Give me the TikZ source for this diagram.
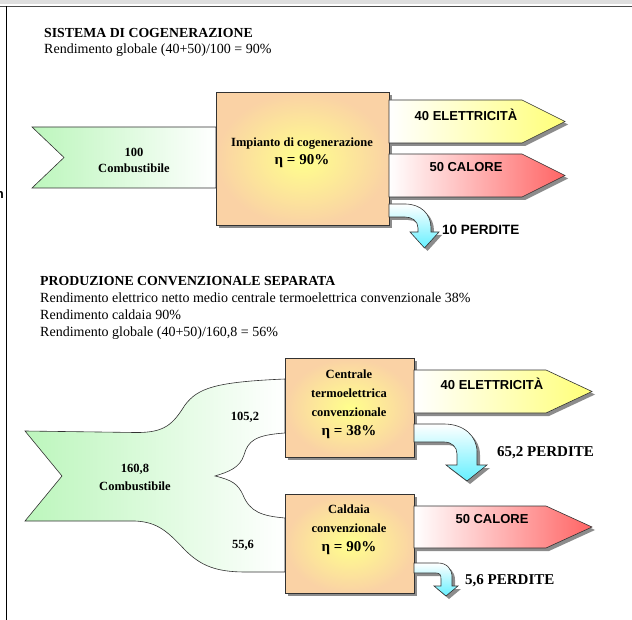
\documentclass[tikz,border=0pt]{standalone}
\usepackage{fontspec}
\setmainfont{Liberation Serif}
\newfontfamily\arialfont{Liberation Sans}
\usetikzlibrary{shadows}
\definecolor{flowgreen}{RGB}{188,246,188}
\definecolor{boxpeach}{RGB}{250,210,165}
\definecolor{boxyellow}{RGB}{255,255,140}
\definecolor{elecyellow}{RGB}{255,255,120}
\definecolor{heatred}{RGB}{255,100,100}
\definecolor{losscyan}{RGB}{100,240,255}
\definecolor{edgegray}{RGB}{50,50,50}
\begin{document}
\begin{tikzpicture}[x=1pt, y=-1pt,
        shade/.style  = {drop shadow={shadow xshift=3pt, shadow yshift=-3pt, fill=gray!90, opacity=1}},
        plant/.style  = {draw=edgegray, line width=0.8pt, inner color=boxyellow, outer color=boxpeach, shade, anchor=north west},
        fuel/.style   = {draw=edgegray, line width=0.6pt, left color=flowgreen, right color=white},
        elec/.style   = {draw=edgegray, line width=0.6pt, left color=white, right color=elecyellow, shade},
        heat/.style   = {draw=edgegray, line width=0.6pt, left color=white, right color=heatred, shade},
        loss/.style   = {draw=edgegray, line width=0.6pt, top color=white, bottom color=losscyan, shade},
        head/.style   = {font=\bfseries\fontsize{13.8}{16}\selectfont, anchor=base west, inner sep=0pt},
        body/.style   = {font=\fontsize{14}{17}\selectfont, anchor=base west, inner sep=0pt},
        inbox/.style  = {font=\bfseries\fontsize{12.5}{19}\selectfont, align=center, inner sep=0pt},
        tag/.style    = {font=\arialfont\bfseries\fontsize{13}{15}\selectfont, inner sep=0pt},
        waste/.style  = {font=\bfseries\fontsize{15}{17}\selectfont, anchor=west, inner sep=0pt}
    ]
    \useasboundingbox (0,0) rectangle (632,620);
    % frame of the page
    \fill[gray!25] (0,0) rectangle (632,4);
    \draw[gray!60!black, line width=1pt] (0,6.5) -- (632,6.5);
    \draw[black, line width=1.2pt] (6.5,6.5) -- (6.5,620);
    \node[font=\arialfont\bfseries\fontsize{13}{15}\selectfont, anchor=base east, inner sep=0pt] (cutn) at (4,199) {n};

    % cogenerazione
    \node[head] (titlecogen) at (44,38) {SISTEMA DI COGENERAZIONE};
    \node[body] (rendcogen) at (44,54) {Rendimento globale (40+50)/100 = 90\%};
    \path[fuel] (32,127) -- (216,127) -- (216,188) -- (32,188) -- (64,157.5) -- cycle;
    \node[inbox] (fuelcogen) at (134,160) {100\\[-3pt]Combustibile};
    \node[plant, minimum width=173pt, minimum height=133pt] (cogen) at (216,92) {};
    \node[inbox, font=\bfseries\fontsize{12.5}{18}\selectfont] (cogentext) at (302,153) {Impianto di cogenerazione\\{\fontsize{15}{18}\selectfont η = 90\%}};
    \path[elec] (389,100) -- (522,100) -- (565,121.5) -- (522,143) -- (389,143) -- cycle;
    \node[tag] (eleccogen) at (466,115) {40 ELETTRICITÀ};
    \path[heat] (389,154) -- (522,154) -- (565,175.5) -- (522,197) -- (389,197) -- cycle;
    \node[tag] (heatcogen) at (466,167) {50 CALORE};
    \path[loss] (389,204) -- (405,204) .. controls (421,204) and (431,214) .. (431,228) -- (431,232)
        -- (439,232) -- (424.5,248) -- (410,232) -- (418,232) -- (418,228)
        .. controls (418,221) and (412,217) .. (405,217) -- (389,217) -- cycle;
    \node[tag, font=\arialfont\bfseries\fontsize{13.5}{15}\selectfont, anchor=west] (losscogen) at (442,230) {10 PERDITE};

    % produzione separata
    \node[head] (titlesep) at (40,285.5) {PRODUZIONE CONVENZIONALE SEPARATA};
    \node[body] (rendelec) at (40,302.5) {Rendimento elettrico netto medio centrale termoelettrica convenzionale 38\%};
    \node[body] (rendcald) at (40,319.5) {Rendimento caldaia 90\%};
    \node[body] (rendsep) at (40,336.5) {Rendimento globale (40+50)/160,8 = 56\%};
    \path[fuel] (25,431) -- (135,432.5) .. controls (165,433) and (173,424) .. (185,405)
        .. controls (198,388) and (215,382) .. (285,379) -- (285,433)
        .. controls (255,435) and (248,441) .. (244,455) .. controls (240,468) and (228,472) .. (215,476)
        .. controls (232,480) and (238,484) .. (243,495) .. controls (250,512) and (262,516) .. (285,518)
        -- (285,572) -- (245,572) .. controls (215,572) and (200,565) .. (185,550)
        .. controls (168,532) and (158,522) .. (135,521) -- (25,521) -- (62,476) -- cycle;
    \node[inbox, font=\bfseries\fontsize{12.5}{18}\selectfont] (fuelsep) at (135,477) {160,8\\Combustibile};
    \node[inbox] (flowelec) at (245,417) {105,2};
    \node[inbox] (flowcald) at (243,545) {55,6};

    \node[plant, minimum width=129pt, minimum height=99pt] (centrale) at (285,358) {};
    \node[inbox] (centraletext) at (349,404) {Centrale\\termoelettrica\\convenzionale\\{\fontsize{15}{18}\selectfont η = 38\%}};
    \path[elec] (414,370) -- (546,370) -- (592,391.5) -- (546,413) -- (414,413) -- cycle;
    \node[tag] (elecsep) at (492,384) {40 ELETTRICITÀ};
    \path[loss] (414,424) -- (444,424) .. controls (464,424) and (477,436) .. (477,452) -- (477,465)
        -- (487,465) -- (467,481) -- (446,465) -- (457,465) -- (457,454)
        .. controls (457,447) and (452,442) .. (444,442) -- (414,442) -- cycle;
    \node[waste] (losselec) at (497,453) {65,2 PERDITE};

    \node[plant, minimum width=129pt, minimum height=99pt] (caldaia) at (285,494) {};
    \node[inbox] (caldaiatext) at (349,529.5) {Caldaia\\convenzionale\\{\fontsize{15}{18}\selectfont η = 90\%}};
    \path[heat] (414,506) -- (546,506) -- (592,527) -- (546,548) -- (414,548) -- cycle;
    \node[tag] (heatsep) at (492,519) {50 CALORE};
    \path[loss] (414,563) -- (438,563) .. controls (447,563) and (452,569) .. (452,577) -- (452,586)
        -- (458,586) -- (446,596) -- (434,586) -- (441,586) -- (441,579)
        .. controls (441,575) and (440,573) .. (436,573) -- (414,573) -- cycle;
    \node[waste] (losscald) at (465,581) {5,6 PERDITE};
\end{tikzpicture}
\end{document}
